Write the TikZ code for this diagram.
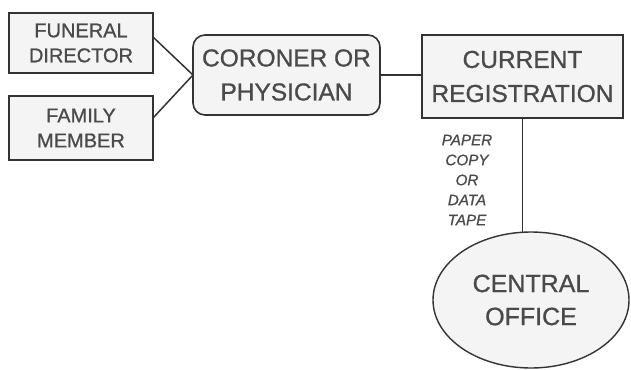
\documentclass[tikz,border=0pt]{standalone}
\usepackage{fontspec}
\setmainfont{Liberation Sans}
\newfontfamily\semib[FakeBold=0.9]{Liberation Sans}
\usetikzlibrary{shapes.geometric}
\definecolor{inkc}{HTML}{333333}
\definecolor{txtc}{HTML}{4A4A4A}
\definecolor{paperc}{HTML}{F4F4F4}
\begin{document}
\begin{tikzpicture}[x=1pt,y=1pt,
  every node/.style={inner sep=0pt, outer sep=0pt},
  sqbox/.style={draw=inkc, line width=1.6pt, fill=paperc, text=txtc, align=center},
  rbox/.style={sqbox, rounded corners=12pt},
  oval/.style={ellipse, draw=inkc, line width=1.4pt, fill=paperc, text=txtc, align=center},
  link/.style={draw=inkc, line width=1.5pt},
  lbl/.style={text=txtc, align=center, font=\semib\itshape\fontsize{15.2}{20}\selectfont}
]
\useasboundingbox (0,0) rectangle (631,-369);
\node[sqbox, minimum width=144pt, minimum height=60pt, font=\semib\fontsize{20}{25}\selectfont] (fd) at (81,-43) {FUNERAL\\DIRECTOR};
\node[sqbox, minimum width=144pt, minimum height=64pt, font=\semib\fontsize{20}{25}\selectfont] (fm) at (81,-128) {FAMILY\\MEMBER};
\node[rbox, minimum width=187pt, minimum height=80pt, font=\semib\fontsize{24.5}{34}\selectfont] (co) at (286.5,-75) {CORONER OR\\PHYSICIAN};
\node[sqbox, minimum width=201pt, minimum height=83pt, font=\semib\fontsize{24.5}{34}\selectfont] (cr) at (522.5,-76.5) {CURRENT\\REGISTRATION};
\node[oval, minimum width=196pt, minimum height=136pt, font=\semib\fontsize{25}{33}\selectfont] (ce) at (531,-300) {CENTRAL\\OFFICE};
\node[lbl] (pc) at (467,-180) {PAPER\\COPY\\OR\\DATA\\TAPE};
\draw[link] ([yshift=6pt]fd.east) -- (co.west);
\draw[link] ([yshift=10pt]fm.east) -- (co.west);
\draw[link] (co.east) -- (co.east -| cr.west);
\draw[link] (cr.south) -- (cr.south |- ce.north);
\end{tikzpicture}
\end{document}
